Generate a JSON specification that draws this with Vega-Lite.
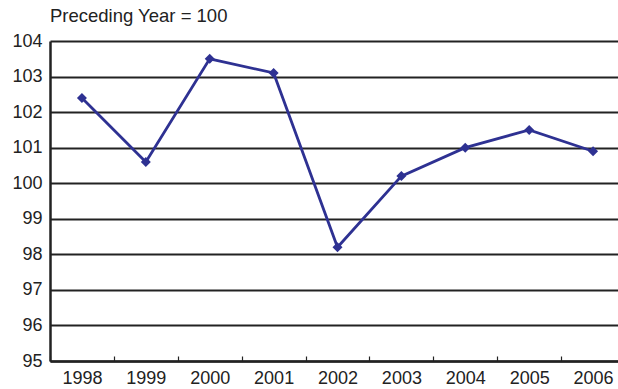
{
  "$schema": "https://vega.github.io/schema/vega-lite/v6.json",
  "autosize": {"type": "none"},
  "padding": {"left": 50, "top": 41, "right": 0, "bottom": 28},
  "width": 575,
  "height": 320,
  "background": "white",
  "title": {
    "text": "Preceding Year = 100",
    "anchor": "start",
    "frame": "group",
    "font": "Liberation Sans",
    "fontSize": 18.5,
    "fontWeight": "normal",
    "color": "#222222",
    "offset": 7
  },
  "config": {
    "view": {"stroke": null},
    "font": "Liberation Sans"
  },
  "data": {
    "values": [
      {"year": "1998", "index": 102.4},
      {"year": "1999", "index": 100.6},
      {"year": "2000", "index": 103.5},
      {"year": "2001", "index": 103.1},
      {"year": "2002", "index": 98.2},
      {"year": "2003", "index": 100.2},
      {"year": "2004", "index": 101.0},
      {"year": "2005", "index": 101.5},
      {"year": "2006", "index": 100.9}
    ]
  },
  "encoding": {
    "x": {
      "field": "year",
      "type": "ordinal",
      "scale": {"type": "band", "paddingInner": 0, "paddingOuter": 0},
      "axis": {
        "title": null,
        "labelAngle": 0,
        "labelFontSize": 18,
        "labelColor": "#222222",
        "labelPadding": 13,
        "domainColor": "#222222",
        "domainWidth": 2.5,
        "tickBand": "extent",
        "tickSize": -5,
        "tickColor": "#222222",
        "tickWidth": 1.2,
        "grid": false
      }
    },
    "y": {
      "field": "index",
      "type": "quantitative",
      "scale": {"domain": [95, 104], "nice": false, "zero": false},
      "axis": {
        "title": null,
        "values": [95, 96, 97, 98, 99, 100, 101, 102, 103, 104],
        "labelFontSize": 18,
        "labelColor": "#222222",
        "labelPadding": 8,
        "ticks": false,
        "domainColor": "#222222",
        "domainWidth": 2.5,
        "grid": true,
        "gridColor": "#222222",
        "gridWidth": 2
      }
    }
  },
  "layer": [
    {
      "mark": {"type": "line", "color": "#2E3192", "strokeWidth": 2.8}
    },
    {
      "mark": {"type": "point", "shape": "diamond", "filled": true, "color": "#2E3192", "opacity": 1, "size": 100}
    }
  ]
}
